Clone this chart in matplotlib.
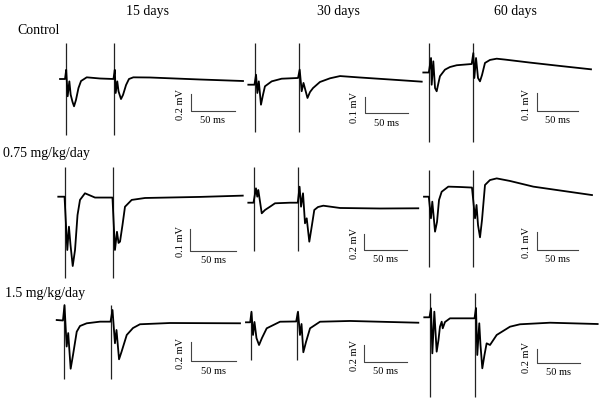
import matplotlib
matplotlib.use('Agg')
import matplotlib.pyplot as plt

plt.rcParams['font.family'] = ['Liberation Serif', 'DejaVu Serif']

columns = ['15 days', '30 days', '60 days']
groups = ['Control', '0.75 mg/kg/day', '1.5 mg/kg/day']

# field potentials: time in ms from first pulse, potential in mV vs baseline
t_c15 = [-6.5, -0.9, 0.45, 2.1, 4.0, 5.5, 7.6, 9.3, 11.5, 14.3, 17.2, 23.6, 38.6, 53.8,
         55.3, 56.3, 58.1, 59.5, 62.3, 64.6, 68.0, 71.3, 76.2, 95.0, 151.5, 200.0]
v_c15 = [0.0, 0.0, 0.11, -0.207, -0.028, -0.188, -0.275, -0.327, -0.25, -0.108, -0.024, 0.02, 0.006, 0.0,
         0.11, -0.168, -0.028, -0.147, -0.24, -0.19, -0.072, 0.0, 0.02, 0.018, -0.006, -0.024]
t_c30 = [-7.7, -0.6, 1.2, 2.7, 4.4, 6.9, 9.2, 11.5, 19.3, 30.8, 49.7,
         51.6, 53.9, 56.0, 60.6, 63.5, 67.0, 75.0, 86.6, 98.2, 121.2, 155.9, 192.5]
v_c30 = [0.0, 0.0, 0.0625, -0.052, 0.021, -0.125, -0.064, -0.01, 0.021, 0.0375, 0.042,
         0.094, -0.041, 0.011, -0.083, -0.046, -0.021, 0.017, 0.04, 0.054, 0.045, 0.0325, 0.019]
t_c60 = [-7.3, -0.6, 2.1, 2.9, 4.9, 7.0, 9.0, 10.6, 13.0, 19.1, 25.2, 33.4, 51.7,
         53.7, 54.9, 57.0, 59.4, 61.8, 64.3, 67.9, 74.0, 82.2, 92.3, 122.8, 159.4, 197.2]
v_c60 = [0.0, 0.0, 0.082, -0.069, 0.063, -0.088, -0.106, -0.071, -0.021, 0.016, 0.031, 0.041, 0.048,
         0.11, -0.031, 0.082, -0.031, -0.05, -0.014, 0.054, 0.071, 0.078, 0.073, 0.056, 0.037, 0.018]

t_l15 = [-7.3, -0.5, 2.5, 4.3, 6.0, 8.4, 10.9, 13.6, 16.3, 21.7, 32.6, 51.6,
         54.3, 56.5, 58.2, 59.8, 62.5, 65.2, 72.5, 87.0, 146.7, 193.2]
v_l15 = [0.0, 0.0, -0.249, -0.14, -0.226, -0.324, -0.249, -0.086, -0.015, 0.016, -0.004, -0.004,
         -0.249, -0.164, -0.216, -0.21, -0.132, -0.047, -0.015, -0.006, -0.001, 0.005]
t_l30 = [-6.6, -0.6, 2.3, 3.8, 5.0, 9.0, 12.8, 18.6, 24.4, 41.9, 50.9,
         53.0, 54.7, 57.0, 59.3, 61.3, 64.3, 67.4, 70.1, 74.4, 80.6, 100.0, 146.5, 191.0]
v_l30 = [0.0, 0.0, 0.18, 0.075, 0.159, -0.1325, -0.091, -0.05, -0.0075, 0.0, 0.0,
         0.2, -0.05, 0.1175, -0.2575, -0.195, -0.4875, -0.279, -0.091, -0.054, -0.0375, -0.066, -0.0725, -0.07]
t_l60 = [-6.4, -0.6, 2.0, 3.6, 5.1, 6.9, 9.3, 11.7, 14.9, 22.9, 37.0, 51.4,
         55.1, 56.9, 58.7, 61.1, 63.5, 67.1, 73.1, 81.2, 97.2, 125.3, 157.5, 196.0]
v_l60 = [0.0, 0.0, -0.118, -0.027, -0.1, -0.191, -0.138, -0.018, 0.027, 0.055, 0.053, 0.05,
         -0.118, -0.045, -0.155, -0.222, -0.127, 0.064, 0.091, 0.1, 0.086, 0.055, 0.034, 0.009]

t_h15 = [-7.5, -0.6, 1.1, 3.5, 5.2, 7.9, 10.5, 14.6, 18.2, 25.6, 40.3, 51.9,
         54.1, 56.8, 58.5, 61.3, 64.0, 69.8, 76.7, 84.4, 117.5, 194.8]
v_h15 = [0.005, 0.0, 0.16, -0.27, -0.13, -0.5, -0.357, -0.116, -0.057, -0.029, -0.012, -0.012,
         0.109, -0.236, -0.098, -0.402, -0.326, -0.15, -0.078, -0.039, -0.026, -0.029]
t_h30 = [-5.5, -0.6, 0.9, 2.7, 4.4, 6.7, 9.7, 13.1, 18.6, 34.1, 52.9,
         55.0, 57.3, 59.1, 61.2, 64.3, 69.0, 80.6, 115.5, 194.9]
v_h30 = [0.0, 0.0, 0.127, -0.152, 0.004, -0.188, -0.272, -0.188, -0.072, 0.007, 0.01,
         0.127, -0.152, -0.02, -0.359, -0.236, -0.072, 0.007, 0.016, -0.005]
t_h60 = [-6.6, -0.6, 1.2, 2.7, 5.0, 7.7, 9.8, 11.5, 13.5, 14.7, 17.3, 23.1, 51.4,
         53.1, 54.6, 56.9, 58.3, 60.4, 62.9, 65.4, 69.3, 77.0, 92.4, 103.9, 138.6, 193.6]
v_h60 = [0.0, 0.0, 0.131, -0.526, 0.082, -0.502, -0.331, -0.137, -0.064, -0.161, -0.069, -0.015, -0.015,
         0.136, -0.55, -0.088, -0.404, -0.745, -0.55, -0.38, -0.404, -0.258, -0.137, -0.102, -0.079, -0.098]

# pulse times (ms) and stimulus artifact extent (mV)
stim_times = [[0, 54.7], [0, 50.8], [0, 52.9],
              [0, 52.2], [0, 51.5], [0, 52.3],
              [0, 52.4], [0, 53.5], [0, 52.0]]
art_top = [0.43, 0.26, 0.167, 0.14, 0.45, 0.146, 0.16, 0.127, 0.35]
art_bot = [-0.674, -0.296, -0.39, -0.381, -0.5975, -0.384, -0.606, -0.452, -1.163]

# calibration bars
bar_mv = [0.2, 0.1, 0.1, 0.1, 0.2, 0.1, 0.2, 0.2, 0.2]
bar_ms = 50

traces = [(t_c15, v_c15), (t_c30, v_c30), (t_c60, v_c60),
          (t_l15, v_l15), (t_l30, v_l30), (t_l60, v_l60),
          (t_h15, v_h15), (t_h30, v_h30), (t_h60, v_h60)]

# --- layout (pixels): first-pulse x, baseline y, px per ms, px per mV ---
W, H = 601, 401
px_x0 = [65.8, 255, 429.3, 65, 254, 429.3, 63.5, 250.7, 430]
px_y0 = [79, 84.7, 72.5, 196.7, 202.7, 196.7, 320.5, 322.3, 317.3]
px_kx = [0.886, 0.866, 0.82, 0.92, 0.86, 0.83, 0.906, 0.86, 0.866]
px_ky = [83.5, 160, 177, 214, 80, 183, 96.5, 83.5, 68.5]
bar_at = [(141, -0.383), (127, -0.179), (131, -0.2175),
          (135.9, -0.252), (128.3, -0.591), (129.4, -0.291),
          (140.4, -0.42), (132.1, -0.472), (123.2, -0.663)]

fig = plt.figure(figsize=(W / 100, H / 100), dpi=100)

for i, (t, v) in enumerate(traces):
    x0, y0, kx, ky = px_x0[i], px_y0[i], px_kx[i], px_ky[i]
    ax = fig.add_axes([(x0 - 10 * kx) / W, 1 - (y0 + 85) / H, 215 * kx / W, 140 / H])
    ax.set_xlim(-10, 205)
    ax.set_ylim(-85 / ky, 55 / ky)
    ax.axis('off')

    ax.vlines(stim_times[i], art_bot[i], art_top[i], color='#222222', lw=0.9)
    ax.plot(t, v, color='black', lw=1.3, solid_joinstyle='round')

    sx, sy = bar_at[i]
    mv = bar_mv[i]
    ax.plot([sx, sx, sx + bar_ms], [sy + mv, sy, sy], color='#444444', lw=0.8)
    ax.annotate(f'{mv} mV', (sx, sy + mv / 2), xytext=(-10, -2), textcoords='offset pixels',
                rotation=90, ha='center', va='center', fontsize=7.5)
    ax.annotate(f'{bar_ms} ms', (sx + bar_ms / 2, sy), xytext=(0, -10), textcoords='offset pixels',
                ha='center', va='center', fontsize=7.5)

for name, x in zip(columns, [148, 338, 515]):
    fig.text(x / W, 1 - 11 / H, name, ha='center', va='center', fontsize=10)
for name, x, y in zip(groups, [17, 3, 5], [31, 153, 293]):
    fig.text(x / W, 1 - y / H, name, ha='left', va='center', fontsize=10)

fig.savefig('out.png', dpi=100)
